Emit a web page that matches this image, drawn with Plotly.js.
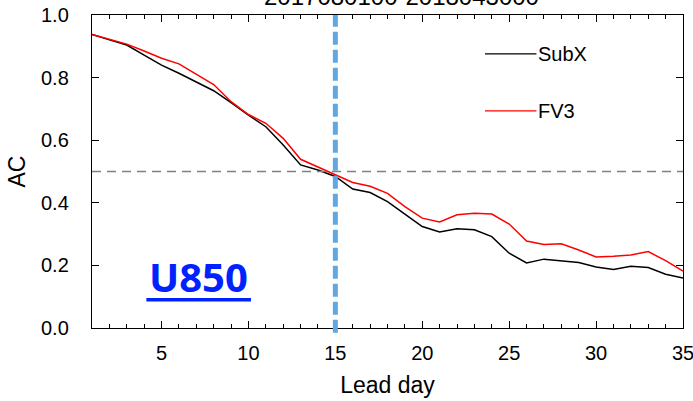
<!DOCTYPE html>
<html>
<head>
<meta charset="utf-8">
<script src="https://cdn.plot.ly/plotly-3.0.1.min.js"></script>
<style>html,body{margin:0;padding:0;background:#fff;}#chart{width:693px;height:401px;}</style>
</head>
<body>
<div id="chart"></div>
<script>
// ---- data ----
const leadDays = [1,2,3,4,5,6,7,8,9,10,11,12,13,14,15,16,17,18,19,20,21,22,23,24,25,26,27,28,29,30,31,32,33,34,35];
const subxAC = [0.938,0.922,0.904,0.872,0.840,0.814,0.786,0.758,0.720,0.680,0.643,0.585,0.521,0.505,0.484,0.444,0.433,0.404,0.364,0.324,0.307,0.317,0.314,0.292,0.239,0.208,0.220,0.214,0.209,0.195,0.187,0.197,0.193,0.172,0.160];
const fv3AC  = [0.938,0.923,0.907,0.885,0.862,0.844,0.810,0.778,0.723,0.682,0.654,0.606,0.539,0.515,0.490,0.465,0.453,0.430,0.388,0.351,0.339,0.362,0.367,0.364,0.332,0.278,0.267,0.269,0.249,0.227,0.229,0.233,0.244,0.215,0.182];
const seriesNames = ["SubX", "FV3"];
const refLevel = 0.5;
const markDay = 15;
const titleText = "2017080100-2018043000";
const panelLabel = "U850";
const xTickVals = [5,10,15,20,25,30,35];
const yTickVals = [0.0,0.2,0.4,0.6,0.8,1.0];
const yTickText = ["0.0","0.2","0.4","0.6","0.8","1.0"];

const font = "Liberation Sans, Arial, Helvetica, sans-serif";

const traces = [
  {x: leadDays, y: subxAC, name: seriesNames[0], mode: "lines", line: {color: "#000000", width: 1.5}, showlegend: false},
  {x: leadDays, y: fv3AC, name: seriesNames[1], mode: "lines", line: {color: "#ff0000", width: 1.5}, showlegend: false}
];

const layout = {
  width: 693, height: 401,
  margin: {l: 92, r: 10, t: 15, b: 73},
  paper_bgcolor: "#fff", plot_bgcolor: "#fff",
  font: {family: font, color: "#000"},
  xaxis: {
    range: [1, 35], tickvals: xTickVals, ticks: "inside", ticklen: 7, tickwidth: 1, tickcolor: "#000",
    minor: {dtick: 1, tick0: 0, ticks: "inside", ticklen: 4, tickcolor: "#000", tickwidth: 1},
    showline: true, linecolor: "#000", linewidth: 1.2, mirror: "ticks", showgrid: false, zeroline: false,
    tickfont: {size: 20, family: font}, ticklabelstandoff: 7, ticklabeloverflow: "allow",
    title: {text: "Lead day", font: {size: 23, family: font}, standoff: 13}
  },
  yaxis: {
    range: [0, 1], tickvals: yTickVals, ticktext: yTickText, ticks: "inside", ticklen: 7, tickwidth: 1, tickcolor: "#000",
    showline: true, linecolor: "#000", linewidth: 1.2, mirror: "ticks", showgrid: false, zeroline: false,
    tickfont: {size: 20, family: font}, ticklabelstandoff: 18, ticklabeloverflow: "allow",
    title: {text: "AC", font: {size: 23, family: font}, standoff: 9}
  },
  shapes: [
    {type: "line", xref: "paper", yref: "y", x0: 0, x1: 1, y0: refLevel, y1: refLevel,
     line: {color: "#808080", width: 1.5, dash: "9px,6px"}},
    {type: "line", xref: "x", yref: "paper", x0: markDay, x1: markDay, y0: -0.015, y1: 1,
     line: {color: "#62a8e0", width: 5, dash: "13px,5px"}},
    {type: "line", xref: "paper", yref: "paper", x0: 0.665, x1: 0.752, y0: 0.876, y1: 0.876,
     line: {color: "#000", width: 1.2}},
    {type: "line", xref: "paper", yref: "paper", x0: 0.665, x1: 0.752, y0: 0.694, y1: 0.694,
     line: {color: "#ff0000", width: 1.2}},
    {type: "line", xref: "paper", yref: "paper", x0: 0.092, x1: 0.269, y0: 0.09, y1: 0.09,
     line: {color: "#0022ff", width: 3.5}}
  ],
  annotations: [
    {text: titleText, xref: "paper", yref: "paper", x: 0.523, y: 1.058, xanchor: "center", yanchor: "middle",
     showarrow: false, font: {size: 24, family: font, color: "#000"}},
    {text: seriesNames[0], xref: "paper", yref: "paper", x: 0.751, y: 0.876, xanchor: "left", yanchor: "middle",
     showarrow: false, font: {size: 20, family: font}},
    {text: seriesNames[1], xref: "paper", yref: "paper", x: 0.751, y: 0.694, xanchor: "left", yanchor: "middle",
     showarrow: false, font: {size: 20, family: font}},
    {text: "<b>" + panelLabel + "</b>", xref: "paper", yref: "paper", x: 0.18, y: 0.163, xanchor: "center", yanchor: "middle",
     showarrow: false, font: {size: 40, family: "Noto Sans, DejaVu Sans, sans-serif", color: "#0022ff"}}
  ]
};

Plotly.newPlot("chart", traces, layout, {displayModeBar: false, staticPlot: true});
</script>
</body>
</html>
